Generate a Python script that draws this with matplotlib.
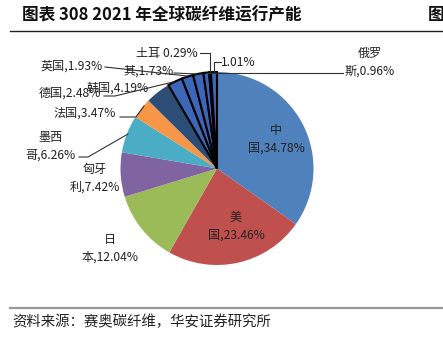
import matplotlib
matplotlib.use("Agg")
import matplotlib.pyplot as plt

plt.rcParams['font.family'] = ['Noto Sans CJK SC', 'DejaVu Sans']

# ---- data ----
countries = ["中国", "美国", "日本", "匈牙利", "墨西哥", "法国", "韩国", "德国", "英国",
             "其", "俄罗斯", "土耳", "其他"]
shares = [34.78, 23.46, 12.04, 7.42, 6.26, 3.47, 4.19, 2.48, 1.93, 1.73, 0.96, 0.29, 1.01]
label_texts = ["中\n国,34.78%", "美\n国,23.46%", "日\n本,12.04%", "匈牙\n利,7.42%",
               "墨西\n哥,6.26%", "法国,3.47%", "韩国,4.19%", "德国,2.48%", "英国,1.93%",
               "其,1.73%", "俄罗\n斯,0.96%", "土耳 0.29%", "1.01%"]
colors = ["#4F81BD", "#C0504D", "#9BBB59", "#8064A2", "#4BACC6", "#F79646", "#2C4D75",
          "#3E66B6", "#3E66B6", "#3E66B6", "#3E66B6", "#3E66B6", "#3E66B6"]

W, H = 443, 339
def Y(y):
    return H - y

fig = plt.figure(figsize=(W / 100, H / 100), dpi=100)
ax = fig.add_axes([0, 0, 1, 1])

cx, cy, r = 217, 168.5, 96.5
wedges, _ = ax.pie(shares, colors=colors, startangle=90, counterclock=False,
                   center=(cx, Y(cy)), radius=r, frame=True)
for i, w in enumerate(wedges):
    if i >= 7:
        w.set_edgecolor("black")
        w.set_linewidth(1.5)
    else:
        w.set_edgecolor("none")

ax.set_xlim(0, W)
ax.set_ylim(0, H)
ax.set_aspect('auto')
ax.axis('off')

# label positions (pixel coords)
label_pos = [(276, 139), (236, 226), (110, 248), (95, 178), (51, 146), (85, 113),
             (118, 88), (70, 93), (72, 66), (149, 71), (370, 62), (167, 53), (238, 63)]
for txt, (x, y) in zip(label_texts, label_pos):
    ax.text(x, Y(y), txt, ha='center', va='center', fontsize=8.7, color='#222222',
            linespacing=1.45, zorder=5)

# leader lines
leaders = [
    [(79, 157), (88, 157), (128, 134)],
    [(120, 117), (136, 117), (144, 106)],
    [(104, 96), (115, 96), (173, 82)],
    [(105, 67), (187, 76)],
    [(174, 73), (197, 74)],
    [(343, 73), (206, 73)],
    [(200, 53), (210, 53), (210, 72)],
    [(221, 62), (214, 62), (214, 72)],
]
for pts in leaders:
    xs = [p[0] for p in pts]
    ys = [Y(p[1]) for p in pts]
    ax.plot(xs, ys, color='#333333', lw=0.8, zorder=4)

# title and frame
ax.text(22, Y(15), "图表 308 2021 年全球碳纤维运行产能", fontsize=12, fontweight='bold',
        va='center', ha='left', color='#111111')
ax.text(428, Y(15), "图", fontsize=12, fontweight='bold', va='center', ha='left', color='#111111')
ax.plot([10, W], [Y(31), Y(31)], color='#222222', lw=1.0)
ax.plot([10, W], [Y(308), Y(308)], color='#999999', lw=1.6)
ax.text(12, Y(322), "资料来源：赛奥碳纤维，华安证券研究所", fontsize=10.4, va='center', ha='left',
        color='#222222')

fig.savefig("out.png", dpi=100)
